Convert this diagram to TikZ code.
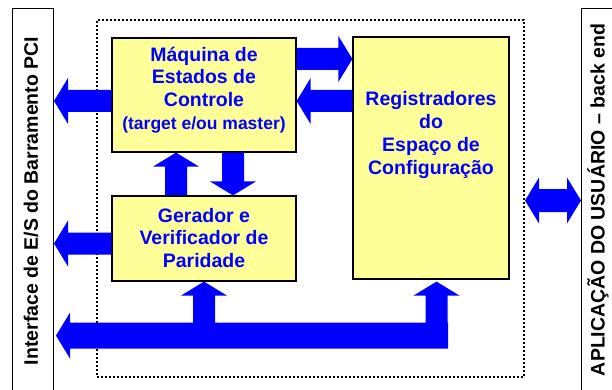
\documentclass[tikz,border=0pt]{standalone}
\usepackage{fontspec}
\setmainfont{Liberation Sans}
\usetikzlibrary{calc,positioning}

\definecolor{pciyellow}{RGB}{255,255,153}
\definecolor{pciblue}{RGB}{0,0,255}

% block arrows %{{{1

\def\headlen{14pt}
\def\headhw{23pt}

% horizontal: #2 tail, #3 tip
\newcommand{\harr}[3][11]{%
	\fill[seta] let \p1=(#2), \p2=(#3), \n1={ifthenelse(\x2>\x1,1,-1)*\headlen} in
		(\x1,{\y1-#1pt}) -- ({\x2-\n1},{\y1-#1pt}) -- ({\x2-\n1},{\y1-\headhw})
		-- (\x2,\y1) -- ({\x2-\n1},{\y1+\headhw}) -- ({\x2-\n1},{\y1+#1pt})
		-- (\x1,{\y1+#1pt}) -- cycle;}

% vertical: #2 tail, #3 tip
\newcommand{\varr}[3][11]{%
	\fill[seta] let \p1=(#2), \p2=(#3), \n1={ifthenelse(\y2>\y1,1,-1)*\headlen} in
		({\x1-#1pt},\y1) -- ({\x1-#1pt},{\y2-\n1}) -- ({\x1-\headhw},{\y2-\n1})
		-- (\x1,\y2) -- ({\x1+\headhw},{\y2-\n1}) -- ({\x1+#1pt},{\y2-\n1})
		-- ({\x1+#1pt},\y1) -- cycle;}

% horizontal, both ends
\newcommand{\dharr}[3][11]{%
	\fill[seta] let \p1=(#2), \p2=(#3), \n1={ifthenelse(\x2>\x1,1,-1)*\headlen} in
		(\x1,\y1) -- ({\x1+\n1},{\y1+\headhw}) -- ({\x1+\n1},{\y1+#1pt})
		-- ({\x2-\n1},{\y1+#1pt}) -- ({\x2-\n1},{\y1+\headhw}) -- (\x2,\y1)
		-- ({\x2-\n1},{\y1-\headhw}) -- ({\x2-\n1},{\y1-#1pt})
		-- ({\x1+\n1},{\y1-#1pt}) -- ({\x1+\n1},{\y1-\headhw}) -- cycle;}

\begin{document}
\begin{tikzpicture}[x=1pt, y=-1pt,
	bloco/.style={draw=black, line width=1.2pt, fill=pciyellow, inner sep=0pt},
	rotulo/.style={text=pciblue, align=center, inner sep=0pt,
		font=\fontsize{19.5}{22.7}\selectfont\bfseries},
	lateral/.style={rotate=90, inner sep=0pt,
		font=\fontsize{19.5}{22.7}\selectfont\bfseries},
	barra/.style={draw=black, line width=1pt, inner sep=0pt, anchor=north west},
	seta/.style={fill=pciblue},
]

	\useasboundingbox (0,0) rectangle (612,390);

% side bars %{{{2

	\node[barra, minimum width=41pt, minimum height=400pt] (lbar) at (12,8) {};
	\node[barra, minimum width=60pt, minimum height=400pt] (rbar) at (581,8) {};

	\node[lateral] (ltxt) at (31,201) {Interface de E/S do Barramento PCI};
	\node[lateral] (rtxt) at (598,200) {APLICAÇÃO DO USUÁRIO -- back end};

% core (dotted) %{{{2

	\node[draw, line width=2pt, dash pattern=on 2pt off 2pt,
		minimum width=427pt, minimum height=357pt, inner sep=0pt] (core) at (310.5,198.5) {};

% blocks %{{{2

	\node[bloco, minimum width=184pt, minimum height=114pt] (maq) at (204,95) {};
	\node[bloco, minimum width=184pt, minimum height=85pt] (gen) at (204,238.5) {};
	\node[bloco, minimum width=156pt, minimum height=242pt] (reg) at (431,158) {};

	\node[rotulo] (maqT) at (204,90) {Máquina de\\Estados de\\Controle\\
		{\fontsize{17.5}{22.3}\selectfont (target e/ou master)}};
	\node[rotulo] (genT) at (204,238) {Gerador e\\Verificador de\\Paridade};
	\node[rotulo] (regT) at (431,135) {Registradores\\do\\Espaço de\\Configuração};

% rows and columns of the arrows %{{{2

	\coordinate (rowA) at (0,59);
	\coordinate (rowB) at (0,101);
	\coordinate (rowC) at (0,243.5);
	\coordinate (rowD) at (0,200.5);
	\coordinate (colA) at (176,0);
	\coordinate (colB) at (233,0);

% arrows %{{{2

	\harr{maq.west |- rowB}{lbar.east |- rowB}
	\harr{gen.west |- rowC}{lbar.east |- rowC}

	\harr{maq.east |- rowA}{reg.west |- rowA}
	\harr{reg.west |- rowB}{maq.east |- rowB}

	\varr{gen.north -| colA}{maq.south -| colA}
	\varr{maq.south -| colB}{gen.north -| colB}

	\dharr[11.5]{core.east |- rowD}{rbar.west |- rowD}

% bus %{{{2

	\coordinate (regIn) at ($(reg.south)+(5.5,2)$);
	\coordinate (busR) at ($(regIn)+(11.5,54)$);
	\coordinate (busL) at ($(lbar.east |- busR)+(2,0)$);

	\harr[13]{busR}{busL}
	\varr{gen.south |- busR}{gen.south}
	\varr{regIn |- busR}{regIn}

\end{tikzpicture}
\end{document}
